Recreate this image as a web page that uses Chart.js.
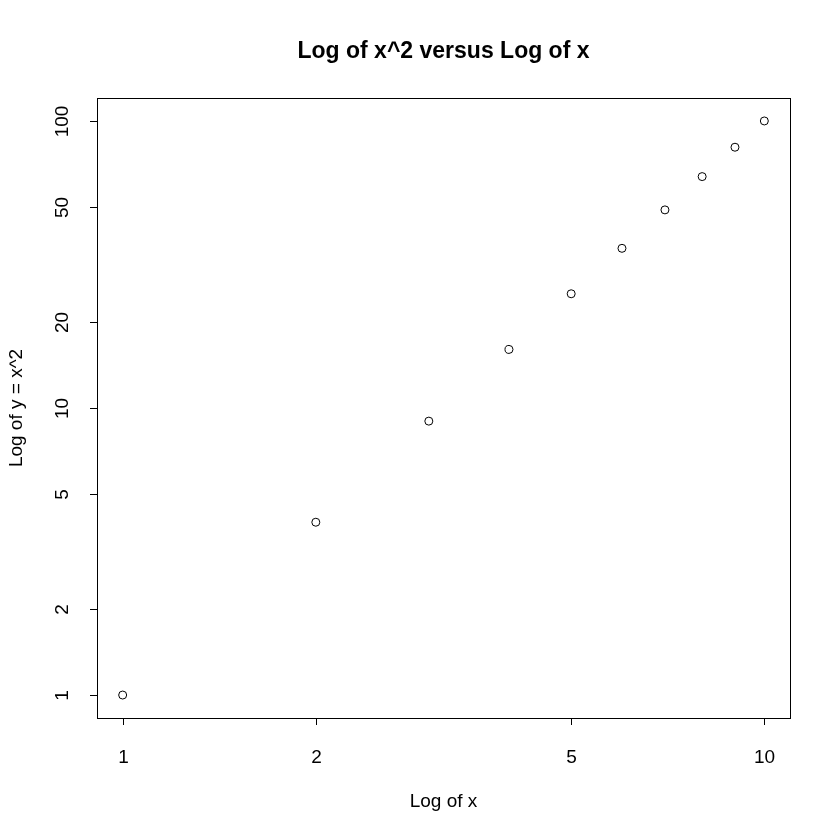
<!DOCTYPE html>
<html><head><meta charset="utf-8">
<script src="https://cdn.jsdelivr.net/npm/chart.js@4/dist/chart.umd.min.js"></script>
<style>html,body{margin:0;background:#fff}#wrap{width:840px;height:840px}</style>
</head><body><div id="wrap"><canvas id="c"></canvas></div>
<script>
const xValues = [1, 2, 3, 4, 5, 6, 7, 8, 9, 10];
const yValues = [1, 4, 9, 16, 25, 36, 49, 64, 81, 100];
const xTicks = [1, 2, 5, 10];
const yTicks = [1, 2, 5, 10, 20, 50, 100];
const FONT = '"Liberation Sans", Arial, sans-serif';

const rStyle = {
  id: 'rStyle',
  afterDraw(chart) {
    const ctx = chart.ctx, a = chart.chartArea;
    const xs = chart.scales.x, ys = chart.scales.y;
    ctx.save();
    ctx.strokeStyle = '#000'; ctx.lineWidth = 1; ctx.fillStyle = '#000';
    ctx.strokeRect(a.left + 0.5, a.top + 0.5, a.right - a.left, a.bottom - a.top);
    ctx.font = '19px ' + FONT;
    ctx.textAlign = 'center'; ctx.textBaseline = 'middle';
    xTicks.forEach(v => {
      const px = Math.round(xs.getPixelForValue(v)) + 0.5;
      ctx.beginPath(); ctx.moveTo(px, a.bottom); ctx.lineTo(px, a.bottom + 7); ctx.stroke();
      ctx.fillText(String(v), px, a.bottom + 40);
    });
    yTicks.forEach(v => {
      const py = Math.round(ys.getPixelForValue(v)) + 0.5;
      ctx.beginPath(); ctx.moveTo(a.left, py); ctx.lineTo(a.left - 7, py); ctx.stroke();
      ctx.save(); ctx.translate(a.left - 34, py); ctx.rotate(-Math.PI / 2);
      ctx.fillText(String(v), 0, 0); ctx.restore();
    });
    ctx.fillText('Log of x', (a.left + a.right) / 2, 802);
    ctx.save(); ctx.translate(17, (a.top + a.bottom) / 2); ctx.rotate(-Math.PI / 2);
    ctx.fillText('Log of y = x^2', 0, 0); ctx.restore();
    ctx.font = 'bold 23px ' + FONT;
    ctx.fillText('Log of x^2 versus Log of x', (a.left + a.right) / 2, 52);
    ctx.restore();
  }
};

new Chart(document.getElementById('c'), {
  type: 'scatter',
  data: { datasets: [{
    data: xValues.map((x, i) => ({ x: x, y: yValues[i] })),
    pointRadius: 4, pointBorderWidth: 1,
    pointBorderColor: '#000', pointBackgroundColor: 'rgba(0,0,0,0)'
  }] },
  options: {
    responsive: true, maintainAspectRatio: false, animation: false,
    layout: { padding: { top: 98, right: 50, left: 0, bottom: 0 } },
    plugins: { legend: { display: false }, tooltip: { enabled: false } },
    scales: {
      x: { type: 'logarithmic', min: Math.pow(10, -0.04), max: Math.pow(10, 1.04),
        grid: { display: false }, border: { display: false }, ticks: { display: false },
        afterFit(s) { s.height = 122; } },
      y: { type: 'logarithmic', min: Math.pow(10, -0.08), max: Math.pow(10, 2.08),
        grid: { display: false }, border: { display: false }, ticks: { display: false },
        afterFit(s) { s.width = 97; } }
    }
  },
  plugins: [rStyle]
});
</script></body></html>
